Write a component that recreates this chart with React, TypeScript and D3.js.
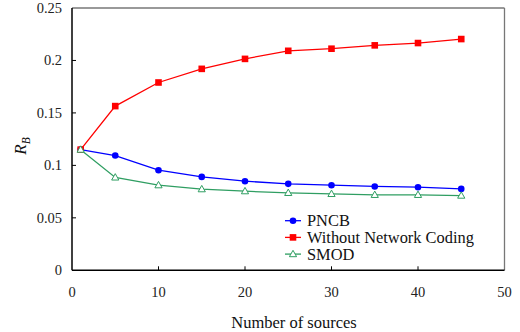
import React from "react";
import * as d3 from "d3";

const sources = [1, 5, 10, 15, 20, 25, 30, 35, 40, 45];
const pncb = [0.115, 0.1094, 0.0954, 0.089, 0.0849, 0.0824, 0.0811, 0.0799, 0.0792, 0.0776];
const withoutNC = [0.115, 0.1565, 0.179, 0.192, 0.2015, 0.2092, 0.2112, 0.2144, 0.2166, 0.2204];
const smod = [0.115, 0.0885, 0.0811, 0.0773, 0.0754, 0.0738, 0.0728, 0.0719, 0.0719, 0.0712];
const xTicks = [0, 10, 20, 30, 40, 50];
const yTicks = [0, 0.05, 0.1, 0.15, 0.2, 0.25];
const yTickLabels = ["0", "0.05", "0.1", "0.15", "0.2", "0.25"];
const seriesNames = ["PNCB", "Without Network Coding", "SMOD"];

const W = 520, H = 332;
const L = 72, R = 504.5, T = 8, B = 270.3;
const FONT = "Liberation Serif";
const BLUE = "#0000ff", RED = "#ff0000", GREEN = "#2f9e62";
const ts = { fontFamily: FONT };

export default function App() {
  const x = d3.scaleLinear().domain([0, 50]).range([L, R]);
  const y = d3.scaleLinear().domain([0, 0.25]).range([B, T]);
  const line = (vals: number[]) =>
    d3.line<number>().x((_, i) => x(sources[i])).y((v) => y(v))(vals) || "";

  const circle = (cx: number, cy: number, k: string) => (
    <circle key={k} cx={cx} cy={cy} r={3.3} fill={BLUE} />
  );
  const square = (cx: number, cy: number, k: string) => (
    <rect key={k} x={cx - 3.3} y={cy - 3.3} width={6.6} height={6.6} fill={RED} />
  );
  const tri = (cx: number, cy: number, k: string) => (
    <path key={k} d={`M${cx},${cy - 3.8}L${cx + 3.6},${cy + 2.6}L${cx - 3.6},${cy + 2.6}Z`} fill="white" stroke={GREEN} strokeWidth={1} />
  );

  const series = [
    { vals: pncb, color: BLUE, m: circle },
    { vals: withoutNC, color: RED, m: square },
    { vals: smod, color: GREEN, m: tri },
  ];

  const legX = 285, legY0 = 220.7, legDy = 16.7;

  return (
    <svg width={W} height={H} style={{ position: "absolute", left: 0, top: 0, fontFamily: FONT }}>
      <rect width={W} height={H} fill="white" />
      <line x1={L} x2={R} y1={T} y2={T} stroke="#777" strokeWidth={1.3} />
      <line x1={R} x2={R} y1={T} y2={B} stroke="#777" strokeWidth={1.3} />
      {xTicks.slice(1, -1).map((t) => (
        <line key={"xt" + t} x1={x(t)} x2={x(t)} y1={B} y2={B - 4} stroke="black" strokeWidth={1} />
      ))}
      {yTicks.slice(1, -1).map((t) => (
        <line key={"yt" + t} x1={L} x2={L + 4} y1={y(t)} y2={y(t)} stroke="black" strokeWidth={1} />
      ))}
      <line x1={L} x2={L} y1={T} y2={B} stroke="black" strokeWidth={1.5} />
      <line x1={L} x2={R} y1={B} y2={B} stroke="black" strokeWidth={1.5} />
      {xTicks.map((t) => (
        <text key={"xl" + t} x={x(t)} y={296.7} fontSize={14.5} textAnchor="middle" fill="#222" style={ts}>{t}</text>
      ))}
      {yTicks.map((t, i) => (
        <text key={"yl" + t} x={62} y={y(t) + 5} fontSize={14.5} textAnchor="end" fill="#222" style={ts}>{yTickLabels[i]}</text>
      ))}
      <text x={294} y={328} fontSize={16.5} textAnchor="middle" fill="#111" style={ts}>Number of sources</text>
      <text transform="translate(26,146) rotate(-90)" fontSize={17} textAnchor="middle" fontStyle="italic" fill="#111" style={ts}>
        R<tspan fontSize={11.5} dy={4}>B</tspan>
      </text>
      {series.map((s, si) => (
        <g key={"s" + si}>
          <path d={line(s.vals)} fill="none" stroke={s.color} strokeWidth={1.3} />
          {s.vals.map((v, i) => s.m(x(sources[i]), y(v), `m${si}-${i}`))}
        </g>
      ))}
      {series.map((s, si) => {
        const yy = legY0 + si * legDy;
        return (
          <g key={"lg" + si}>
            <line x1={legX} x2={legX + 16} y1={yy} y2={yy} stroke={s.color} strokeWidth={1.3} />
            {s.m(legX + 8, yy, "lm" + si)}
            <text x={307} y={yy + 5.6} fontSize={16.4} fill="#111" style={ts}>{seriesNames[si]}</text>
          </g>
        );
      })}
    </svg>
  );
}
